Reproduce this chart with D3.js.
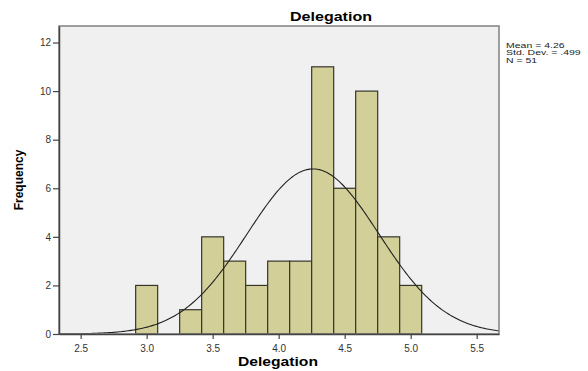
<!DOCTYPE html>
<html><head><meta charset="utf-8">
<script src="https://cdn.jsdelivr.net/npm/d3@7"></script>
<style>body{margin:0;background:#fff;font-family:Arial,"Liberation Sans",sans-serif;}</style>
</head><body>
<svg id="c" width="588" height="371"></svg>
<script>
// Data
const binStarts = [2.9167, 3.0833, 3.25, 3.4167, 3.5833, 3.75, 3.9167, 4.0833, 4.25, 4.4167, 4.5833, 4.75, 4.9167];
const counts    = [2, 0, 1, 4, 3, 2, 3, 3, 11, 6, 10, 4, 2];
const binWidth = 1/6;
const xTicks = [2.5, 3.0, 3.5, 4.0, 4.5, 5.0, 5.5];
const yTicks = [0, 2, 4, 6, 8, 10, 12];
const statsLabels = ["Mean = 4.26", "Std. Dev. = .499", "N = 51"];
const statValues = [4.26, 0.499, 51]; // mean, sd, n

const svg = d3.select("#c");
const L = 59, R = 499, T = 26, B = 334;
const x = d3.scaleLinear().domain([2.336, 5.669]).range([L, R]);
const y = d3.scaleLinear().domain([0, 12.68]).range([B, T]);

svg.append("rect").attr("x", L).attr("y", T).attr("width", R-L).attr("height", B-T)
  .attr("fill", "#f0f0f0");

// bars
svg.selectAll("rect.bar").data(binStarts.map((s,i)=>({s, c:counts[i]})).filter(d=>d.c>0))
  .enter().append("rect").attr("class","bar")
  .attr("x", d=>x(d.s)).attr("width", d=>x(d.s+binWidth)-x(d.s))
  .attr("y", d=>y(d.c)).attr("height", d=>y(0)-y(d.c))
  .attr("fill", "#d3cf98").attr("stroke", "#36362c").attr("stroke-width", 1.2);

// normal curve
const [mu, sd, n] = statValues;
const pts = d3.range(0, 301).map(i => {
  const v = x.domain()[0] + (x.domain()[1]-x.domain()[0]) * i/300;
  const f = n * binWidth * Math.exp(-0.5*((v-mu)/sd)**2) / (sd*Math.sqrt(2*Math.PI));
  return [v, f];
});
svg.append("path").attr("d", d3.line().x(d=>x(d[0])).y(d=>y(d[1]))(pts))
  .attr("fill","none").attr("stroke","#222").attr("stroke-width",1.1);

// frame
svg.append("rect").attr("x", L).attr("y", T).attr("width", R-L).attr("height", B-T)
  .attr("fill", "none").attr("stroke", "#808080").attr("stroke-width", 1.5);

// axes
const xa = svg.append("g").attr("transform", `translate(0,${B})`)
  .call(d3.axisBottom(x).tickValues(xTicks).tickFormat(d3.format(".1f")).tickSize(5).tickSizeOuter(0));
const ya = svg.append("g").attr("transform", `translate(${L},0)`)
  .call(d3.axisLeft(y).tickValues(yTicks).tickFormat(d3.format("d")).tickSize(6).tickSizeOuter(0));
[xa, ya].forEach(g => {
  g.select(".domain").attr("stroke", "#444").attr("stroke-width", 1.5);
  g.selectAll(".tick line").attr("stroke", "#444").attr("stroke-width", 1.2);
  g.selectAll("text").attr("fill", "#333").style("font-size", "10px").style("font-family", "Arial, 'Liberation Sans', sans-serif");
});
ya.selectAll(".tick text").attr("x", -8);
xa.selectAll(".tick text").attr("dy", "1em");

// titles
svg.append("text").attr("x", 290).attr("y", 21)
  .attr("textLength", 82).attr("lengthAdjust","spacingAndGlyphs")
  .style("font-weight","bold").style("font-size","13px").text("Delegation");
svg.append("text").attr("x", 238).attr("y", 366)
  .attr("textLength", 80).attr("lengthAdjust","spacingAndGlyphs")
  .style("font-weight","bold").style("font-size","13px").text("Delegation");
svg.append("text").attr("transform","translate(23,180) rotate(-90)").attr("text-anchor","middle")
  .style("font-weight","bold").style("font-size","12px").text("Frequency");

// stats box (horizontally stretched like the reference)
const sg = svg.append("g").attr("transform", "translate(506,0) scale(1.4,1)");
sg.selectAll("text.stat").data(statsLabels).enter().append("text").attr("class","stat")
  .attr("x", 0).attr("y", (d,i)=>48 + i*7.5)
  .style("font-size","7.5px").attr("fill","#222").text(d=>d);
</script>
</body></html>
